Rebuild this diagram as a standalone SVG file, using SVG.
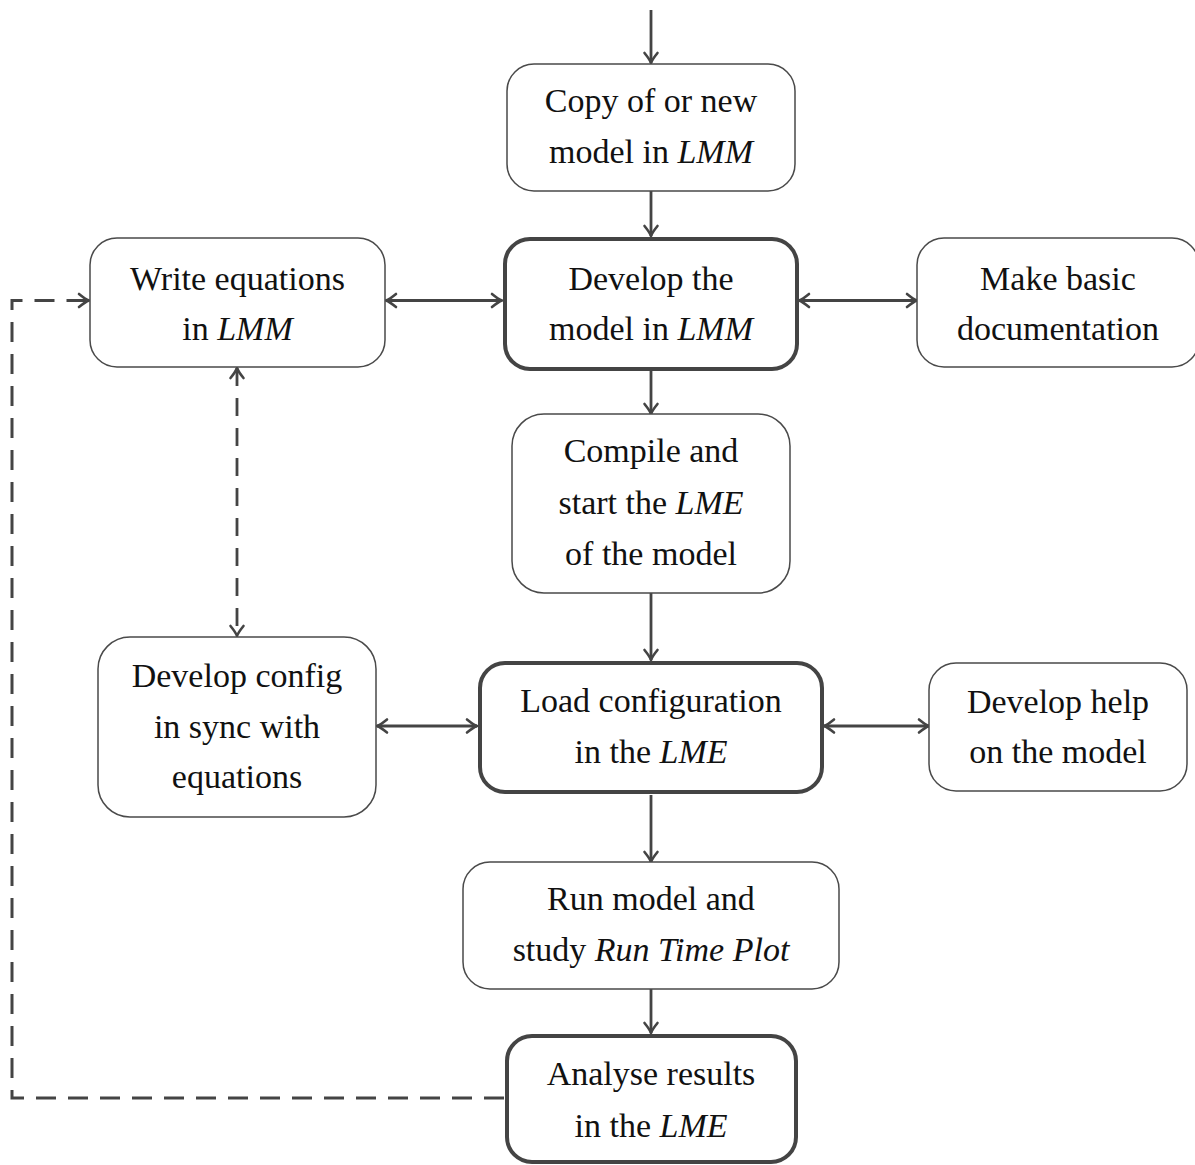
<svg xmlns="http://www.w3.org/2000/svg" width="1195" height="1165" viewBox="0 0 1195 1165">
  <style>
    .box { fill: #ffffff; stroke: #4a4a4a; stroke-width: 1.5; }
    .key { fill: #ffffff; stroke: #444444; stroke-width: 4; }
    .lbl { font-family: "Liberation Serif", "Times New Roman", serif; font-size: 34px; fill: #111111; text-anchor: middle; }
    .it { font-style: italic; }
    .flow { fill: none; stroke: #444444; stroke-width: 2.8; }
    .dash { fill: none; stroke: #444444; stroke-width: 2.8; stroke-dasharray: 18 12; }
    .loop { fill: none; stroke: #444444; stroke-width: 3; stroke-dasharray: 20 12; }
  </style>
  <defs>
    <marker id="tip" markerUnits="userSpaceOnUse" markerWidth="20" markerHeight="20" viewBox="-12 -10 14 20" refX="0" refY="0" orient="auto-start-reverse">
      <path d="M -10 -6.5 Q -3.5 -1.2 0 0 Q -3.5 1.2 -10 6.5" fill="none" stroke="#444444" stroke-width="2.6" stroke-linecap="round" stroke-linejoin="round"/>
    </marker>
  </defs>

  <!-- connectors -->
  <g id="connectors">
    <line class="flow" x1="651" y1="10" x2="651" y2="63" marker-end="url(#tip)"/>
    <line class="flow" x1="651" y1="191" x2="651" y2="236" marker-end="url(#tip)"/>
    <line class="flow" x1="651" y1="371" x2="651" y2="414" marker-end="url(#tip)"/>
    <line class="flow" x1="651" y1="593" x2="651" y2="660" marker-end="url(#tip)"/>
    <line class="flow" x1="651" y1="795" x2="651" y2="862" marker-end="url(#tip)"/>
    <line class="flow" x1="651" y1="989" x2="651" y2="1033" marker-end="url(#tip)"/>
    <line class="flow" x1="386" y1="300.5" x2="502" y2="300.5" marker-start="url(#tip)" marker-end="url(#tip)"/>
    <line class="flow" x1="799" y1="300.5" x2="917" y2="300.5" marker-start="url(#tip)" marker-end="url(#tip)"/>
    <line class="flow" x1="377" y1="726" x2="477" y2="726" marker-start="url(#tip)" marker-end="url(#tip)"/>
    <line class="flow" x1="824" y1="726" x2="929" y2="726" marker-start="url(#tip)" marker-end="url(#tip)"/>
    <line class="dash" x1="237" y1="368" x2="237" y2="636" marker-start="url(#tip)" marker-end="url(#tip)"/>
    <path class="loop" d="M 504 1098 H 12 V 300.5 H 89" marker-end="url(#tip)"/>
  </g>

  <!-- nodes -->
  <g id="copy-model">
    <rect class="box" x="507" y="64" width="288" height="127" rx="27"/>
    <text class="lbl" x="651" y="112">Copy of or new</text>
    <text class="lbl" x="651" y="163">model in <tspan class="it">LMM</tspan></text>
  </g>
  <g id="develop-model">
    <rect class="key" x="505" y="239" width="292" height="130" rx="25"/>
    <text class="lbl" x="651" y="290">Develop the</text>
    <text class="lbl" x="651" y="340">model in <tspan class="it">LMM</tspan></text>
  </g>
  <g id="write-equations">
    <rect class="box" x="90" y="238" width="295" height="129" rx="27"/>
    <text class="lbl" x="237.5" y="290">Write equations</text>
    <text class="lbl" x="237.5" y="340">in <tspan class="it">LMM</tspan></text>
  </g>
  <g id="basic-docs">
    <rect class="box" x="917" y="238" width="282" height="129" rx="27"/>
    <text class="lbl" x="1058" y="290">Make basic</text>
    <text class="lbl" x="1058" y="340">documentation</text>
  </g>
  <g id="compile-start">
    <rect class="box" x="512" y="414" width="278" height="179" rx="32"/>
    <text class="lbl" x="651" y="462">Compile and</text>
    <text class="lbl" x="651" y="514">start the <tspan class="it">LME</tspan></text>
    <text class="lbl" x="651" y="565">of the model</text>
  </g>
  <g id="develop-config">
    <rect class="box" x="98" y="637" width="278" height="180" rx="32"/>
    <text class="lbl" x="237" y="687">Develop config</text>
    <text class="lbl" x="237" y="738">in sync with</text>
    <text class="lbl" x="237" y="788">equations</text>
  </g>
  <g id="load-config">
    <rect class="key" x="480" y="663" width="342" height="129" rx="25"/>
    <text class="lbl" x="651" y="712">Load configuration</text>
    <text class="lbl" x="651" y="763">in the <tspan class="it">LME</tspan></text>
  </g>
  <g id="develop-help">
    <rect class="box" x="929" y="663" width="258" height="128" rx="27"/>
    <text class="lbl" x="1058" y="713">Develop help</text>
    <text class="lbl" x="1058" y="763">on the model</text>
  </g>
  <g id="run-model">
    <rect class="box" x="463" y="862" width="376" height="127" rx="27"/>
    <text class="lbl" x="651" y="910">Run model and</text>
    <text class="lbl" x="651" y="961">study <tspan class="it">Run Time Plot</tspan></text>
  </g>
  <g id="analyse-results">
    <rect class="key" x="507" y="1036" width="289" height="126" rx="25"/>
    <text class="lbl" x="651" y="1085">Analyse results</text>
    <text class="lbl" x="651" y="1137">in the <tspan class="it">LME</tspan></text>
  </g>
</svg>
